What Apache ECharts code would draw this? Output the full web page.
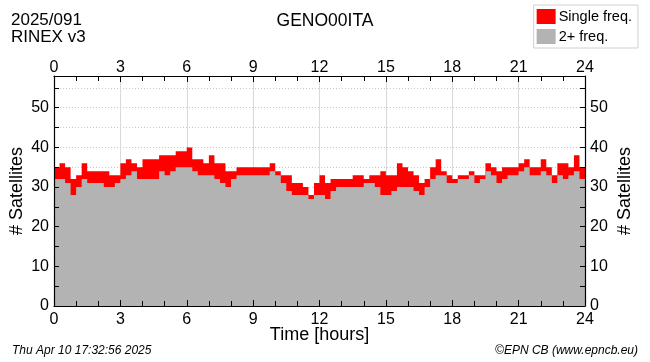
<!DOCTYPE html>
<html>
<head>
<meta charset="utf-8">
<script src="https://cdn.jsdelivr.net/npm/echarts@6/dist/echarts.min.js"></script>
<style>
html,body{margin:0;padding:0;background:#fff;}
#chart{width:650px;height:362px;}
</style>
</head>
<body>
<div id="chart"></div>
<script>
// 15-minute bins, hours 0..24
var binHours = 0.25;
var totalSats = [
  35,36,35,32,33,36,34,34,34,34,33,33,36,37,36,35,37,37,37,38,38,38,39,39,
  40,37,37,36,38,36,36,34,34,35,35,35,35,35,35,36,34,33,33,31,31,30,28,31,
  33,31,32,32,32,32,33,33,32,33,33,34,33,33,36,35,34,33,31,32,35,37,34,33,
  32,33,33,34,33,33,36,35,34,35,35,35,36,37,35,35,37,35,33,36,36,35,38,35
];
var dualFreq = [
  32,32,31,28,30,32,31,31,31,30,30,31,32,33,34,32,32,32,32,34,33,34,35,35,
  35,34,33,33,33,32,31,30,32,33,33,33,33,33,33,34,33,31,29,28,28,28,27,28,
  28,27,29,30,30,30,30,30,31,31,30,28,28,29,30,30,30,29,28,30,32,33,33,31,
  31,32,32,33,31,32,34,33,31,32,33,33,34,35,33,33,34,33,31,33,32,33,34,32
];
var singleFreq = totalSats.map(function(t,i){return t - dualFreq[i];});
var xTicks = [0,3,6,9,12,15,18,21,24];
var yTicks = [0,10,20,30,40,50];

function toSteps(vals){
  var out = vals.map(function(v,i){return [i*binHours, v];});
  out.push([vals.length*binHours, vals[vals.length-1]]);
  return out;
}
var totalLine = toSteps(dualFreq.map(function(d,i){return d + singleFreq[i];}));
var dualLine = toSteps(dualFreq);

var FONT = 'Liberation Sans';
var chart = echarts.init(document.getElementById('chart'), null, {renderer:'canvas'});

function xAxis(pos){
  return {
    type:'value', position:pos, min:0, max:24, interval:3, z:10,
    axisLine:{show:true, onZero:false, lineStyle:{color:'#000', width:1.2}},
    axisTick:{show:true, inside:true, length:6, lineStyle:{color:'#000'}},
    minorTick:{show:true, splitNumber:3, length:5, lineStyle:{color:'#000'}},
    axisLabel:{color:'#000', fontFamily:FONT, fontSize:16, margin:pos==='bottom'?6:0,
      formatter:function(v){return xTicks.indexOf(v)>=0 ? String(v) : '';}},
    splitLine:{show:false},
    name: pos==='bottom' ? 'Time [hours]' : '',
    nameLocation:'middle', nameGap:20, nameMoveOverlap:false,
    nameTextStyle:{color:'#000', fontFamily:FONT, fontSize:18}
  };
}
function yAxis(pos){
  return {
    type:'value', position:pos, min:0, max:58, interval:5, z:10,
    axisLine:{show:true, onZero:false, lineStyle:{color:'#000', width:1.2}},
    axisTick:{show:true, inside:true, length:5, lineStyle:{color:'#000'}},
    axisLabel:{color:'#000', fontFamily:FONT, fontSize:16, margin:5,
      formatter:function(v){return yTicks.indexOf(v)>=0 ? String(v) : '';}},
    splitLine:{show:false},
    name:'# Satellites', nameLocation:'middle', nameGap:pos==='left'?28:31,
    nameRotate: 90, nameMoveOverlap:false,
    nameTextStyle:{color:'#000', fontFamily:FONT, fontSize:18}
  };
}
// grid-only axes drawn beneath the series
var gridX = {type:'value', min:0, max:24, interval:3, z:0,
  axisLine:{show:false}, axisTick:{show:false}, axisLabel:{show:false},
  splitLine:{show:true, lineStyle:{color:'#d9d9d9', width:1}}};
var gridY = {type:'value', min:0, max:58, interval:5, z:0,
  axisLine:{show:false}, axisTick:{show:false}, axisLabel:{show:false},
  splitLine:{show:true, lineStyle:{color:'#c8c8c8', type:[1,2], width:1}}};

chart.setOption({
  animation:false,
  backgroundColor:'#fff',
  textStyle:{fontFamily:FONT},
  grid:{left:54, right:65, top:76, bottom:56, containLabel:false, outerBoundsMode:'none'},
  xAxis:[xAxis('bottom'), xAxis('top'), gridX],
  yAxis:[yAxis('left'), yAxis('right'), gridY],
  legend:{
    orient:'vertical', right:12, top:5, itemWidth:19, itemHeight:15, itemGap:5,
    icon:'rect', padding:[4,6,4,3],
    borderColor:'#d0d0d0', borderWidth:1, backgroundColor:'#fff',
    textStyle:{color:'#000', fontFamily:FONT, fontSize:14.5, padding:[0,0,0,-2]},
    data:['Single freq.','2+ freq.'], selectedMode:false
  },
  graphic:[
    {type:'text', left:11, top:12, style:{text:'2025/091\nRINEX v3', font:'17px "Liberation Sans"', fill:'#000', lineHeight:17}},
    {type:'text', left:'center', top:12, style:{text:'GENO00ITA', font:'17.5px "Liberation Sans"', fill:'#000'}},
    {type:'text', left:12, top:345, style:{text:'Thu Apr 10 17:32:56 2025', font:'italic 12px "Liberation Sans"', fill:'#000'}},
    {type:'text', right:12, top:345, style:{text:'\u00A9EPN CB (www.epncb.eu)', font:'italic 12px "Liberation Sans"', fill:'#000'}}
  ],
  series:[
    {name:'Single freq.', type:'line', step:'end', data:totalLine, symbol:'none',
     color:'#ff0000', lineStyle:{width:0}, areaStyle:{color:'#ff0000', opacity:1}, z:2},
    {name:'2+ freq.', type:'line', step:'end', data:dualLine, symbol:'none',
     color:'#b3b3b3', lineStyle:{width:0}, areaStyle:{color:'#b3b3b3', opacity:1}, z:3}
  ]
});
</script>
</body>
</html>
